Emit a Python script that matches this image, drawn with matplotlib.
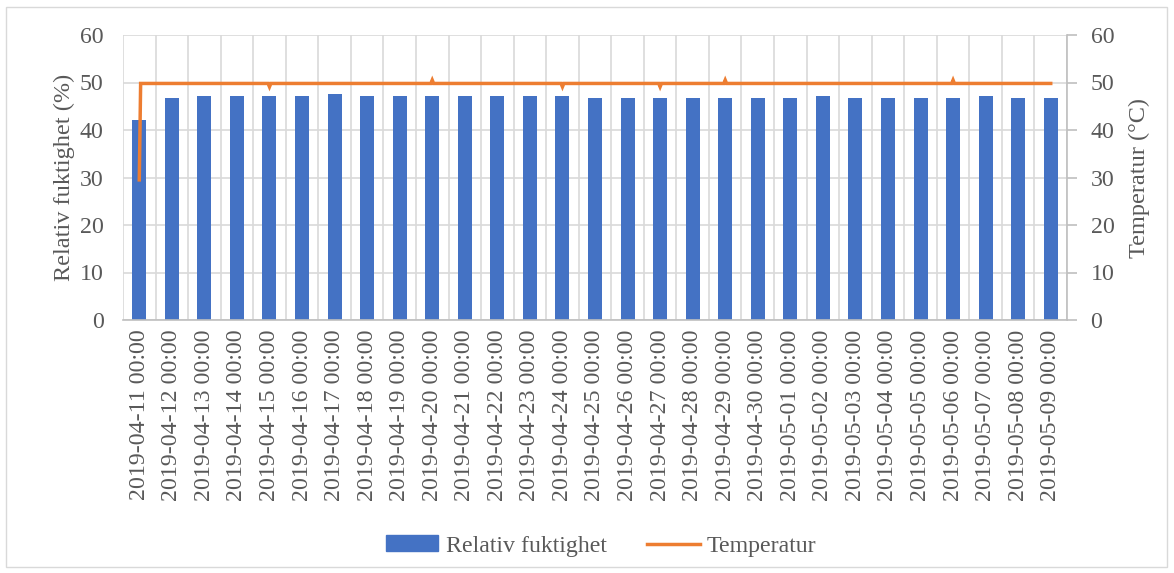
import numpy as np
import matplotlib
matplotlib.use("Agg")
import matplotlib.pyplot as plt
from matplotlib.patches import Rectangle, Patch
from matplotlib.lines import Line2D

plt.rcParams['font.family'] = ['Liberation Serif', 'DejaVu Serif']

# daily categories
dates = ["2019-04-11", "2019-04-12", "2019-04-13", "2019-04-14", "2019-04-15",
         "2019-04-16", "2019-04-17", "2019-04-18", "2019-04-19", "2019-04-20",
         "2019-04-21", "2019-04-22", "2019-04-23", "2019-04-24", "2019-04-25",
         "2019-04-26", "2019-04-27", "2019-04-28", "2019-04-29", "2019-04-30",
         "2019-05-01", "2019-05-02", "2019-05-03", "2019-05-04", "2019-05-05",
         "2019-05-06", "2019-05-07", "2019-05-08", "2019-05-09"]
labels = [d + " 00:00" for d in dates]

# relative humidity (%) per day
rh = [42.2, 46.8, 47.2, 47.2, 47.2, 47.2, 47.6, 47.2, 47.2, 47.2,
      47.2, 47.2, 47.2, 47.2, 46.8, 46.8, 46.8, 46.8, 46.8, 46.8,
      46.8, 47.2, 46.8, 46.8, 46.8, 46.8, 47.2, 46.8, 46.8]

# temperature readings (hours since 2019-04-11 00:00, degC)
temp_hours = [0, 1, 95, 96, 97, 215, 216, 217, 311, 312, 313,
              383, 384, 385, 431, 432, 433, 599, 600, 601, 672]
temp_vals = [29.5, 49.8, 49.8, 49.1, 49.8, 49.8, 50.5, 49.8, 49.8, 49.1, 49.8,
             49.8, 49.1, 49.8, 49.8, 50.5, 49.8, 49.8, 50.5, 49.8, 49.8]

blue = "#4472C4"
orange = "#ED7D31"
txt = "#595959"
grid = "#D9D9D9"
fs = 17.2

fig = plt.figure(figsize=(11.74, 5.73), dpi=100)
fig.patches.append(Rectangle((6 / 1174, 6 / 573), 1161 / 1174, 560 / 573,
                             transform=fig.transFigure, fill=False,
                             edgecolor="#D9D9D9", linewidth=1))

ax = fig.add_axes([123 / 1174, 1 - 320 / 573, 944 / 1174, 285 / 573])
x = np.arange(len(dates))
ax.bar(x, rh, width=0.43, color=blue, zorder=2)
ax.set_xlim(-0.5, len(dates) - 0.5)
ax.set_ylim(0, 60)
ax.set_yticks(np.arange(0, 61, 10))

ax.set_xticks(x)
ax.set_xticklabels(labels, rotation=90)
ax.set_xticks(np.arange(-0.5, len(dates), 1), minor=True)
ax.grid(True, axis="y", color=grid, linewidth=1.2, zorder=0)
ax.grid(True, axis="x", which="minor", color=grid, linewidth=1.2, zorder=0)
ax.tick_params(axis="x", which="major", length=0, pad=7, labelsize=fs, colors=txt)
ax.tick_params(axis="x", which="minor", length=0)
ax.tick_params(axis="y", length=0, pad=14, labelsize=fs, colors=txt)
for s in ["top", "right", "left"]:
    ax.spines[s].set_visible(False)
ax.spines["bottom"].set_color("#BFBFBF")
ax.spines["bottom"].set_linewidth(1.2)
ax.set_ylabel("Relativ fuktighet (%)", fontsize=17.5, color=txt)
ax.yaxis.set_label_coords(-0.051, 0.5)

ax2 = ax.twinx()
ax2.plot(np.array(temp_hours) / 24.0, temp_vals, color=orange, linewidth=2.5,
         solid_joinstyle="miter", zorder=3)
ax2.set_ylim(0, 60)
ax2.set_yticks(np.arange(0, 61, 10))
ax2.tick_params(axis="y", length=7, width=1.2, color="#BFBFBF", pad=10,
                labelsize=fs, labelcolor=txt)
for s in ["top", "left", "bottom"]:
    ax2.spines[s].set_visible(False)
ax2.spines["right"].set_color("#BFBFBF")
ax2.spines["right"].set_linewidth(1.2)
ax2.set_ylabel("Temperatur (°C)", fontsize=17.5, color=txt)
ax2.yaxis.set_label_coords(1.066, 0.5)

handles = [Patch(color=blue, label="Relativ fuktighet"),
           Line2D([], [], color=orange, linewidth=2.5, label="Temperatur")]
fig.legend(handles=handles, loc="center", bbox_to_anchor=(0.512, 1 - 546 / 573),
           ncol=2, frameon=False, fontsize=fs, handlelength=2.2,
           handleheight=0.6, handletextpad=0.3, columnspacing=1.7,
           labelcolor=txt)

fig.savefig("out.png", dpi=100)
